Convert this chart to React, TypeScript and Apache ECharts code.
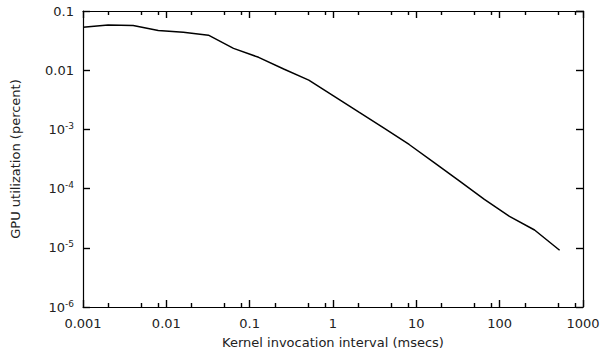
import React, { useEffect, useRef } from "react";
import * as echarts from "echarts";

const intervalsMs = [
  0.001, 0.002, 0.004, 0.008, 0.016, 0.032, 0.064, 0.128, 0.256, 0.512,
  1.024, 2.048, 4.096, 8.192, 16.384, 32.768, 65.536, 131.072, 262.144, 524.288,
];
const gpuUtilization = [
  0.053, 0.058, 0.057, 0.047, 0.0437, 0.039, 0.0234, 0.0165, 0.0105, 0.0068,
  0.00366, 0.00195, 0.00105, 0.000556, 0.000275, 0.000135, 0.000066, 0.000034, 0.00002, 0.0000091,
];
const xDecades = [-3, -2, -1, 0, 1, 2, 3];
const xMinorMantissas = [2, 5, 8];

const FONT = "DejaVu Sans";

export default function App() {
  const ref = useRef<HTMLDivElement>(null);
  useEffect(() => {
    if (!ref.current) return;
    const chart = echarts.init(ref.current, undefined, { renderer: "svg" });
    const minorTicks: number[] = [];
    xDecades.slice(0, -1).forEach((d) => {
      xMinorMantissas.forEach((m) => minorTicks.push(d + Math.log10(m)));
    });
    const fmtX = (v: number) => {
      const e = Math.round(Math.log10(v));
      return e < 0 ? Math.pow(10, e).toFixed(-e) : String(Math.round(Math.pow(10, e)));
    };
    const fmtY = (v: number) => {
      const e = Math.round(Math.log10(v));
      if (e === -1) return "0.1";
      if (e === -2) return "0.01";
      return "10{sup|" + e + "}";
    };
    const lineStyle = { color: "#000", width: 1.2 };
    const tickStyle = { color: "#000", width: 1.4 };
    const data = intervalsMs.map((x, i) => [x, gpuUtilization[i]]);
    chart.setOption({
      animation: false,
      backgroundColor: "#fff",
      grid: { left: 83, right: 20, top: 11, bottom: 47, containLabel: false },
      xAxis: [
        {
          type: "log",
          logBase: 10,
          min: 0.001,
          max: 1000,
          splitNumber: 6,
          position: "bottom",
          name: "Kernel invocation interval (msecs)",
          nameLocation: "middle",
          nameGap: 29,
          nameTextStyle: { fontFamily: FONT, fontSize: 13, color: "#222" },
          axisLine: { show: true, onZero: false, lineStyle },
          axisTick: { show: true, inside: true, length: 7, lineStyle: tickStyle },
          axisLabel: { fontFamily: FONT, fontSize: 13, color: "#222", margin: 10, formatter: fmtX },
          splitLine: { show: false },
          minorTick: { show: false },
        },
        {
          type: "log",
          logBase: 10,
          min: 0.001,
          max: 1000,
          splitNumber: 6,
          position: "top",
          axisLine: { show: true, onZero: false, lineStyle },
          axisTick: { show: true, inside: true, length: 7, lineStyle: tickStyle },
          axisLabel: { show: false },
          splitLine: { show: false },
        },
        {
          type: "value",
          min: -3,
          max: 3,
          position: "bottom",
          axisLine: { show: false, onZero: false },
          axisTick: { show: true, inside: true, length: 4, customValues: minorTicks, lineStyle: tickStyle },
          axisLabel: { show: false },
          splitLine: { show: false },
        },
        {
          type: "value",
          min: -3,
          max: 3,
          position: "top",
          axisLine: { show: false, onZero: false },
          axisTick: { show: true, inside: true, length: 4, customValues: minorTicks, lineStyle: tickStyle },
          axisLabel: { show: false },
          splitLine: { show: false },
        },
      ],
      yAxis: [
        {
          type: "log",
          logBase: 10,
          min: 0.000001,
          max: 0.1,
          splitNumber: 5,
          position: "left",
          name: "GPU utilization (percent)",
          nameLocation: "middle",
          nameGap: 61,
          nameTextStyle: { fontFamily: FONT, fontSize: 13, color: "#222" },
          axisLine: { show: true, onZero: false, lineStyle },
          axisTick: { show: true, inside: true, length: 7, lineStyle: tickStyle },
          axisLabel: {
            fontFamily: FONT,
            fontSize: 13,
            color: "#222",
            margin: 9,
            formatter: fmtY,
            rich: {
              sup: { fontFamily: FONT, fontSize: 9, color: "#222", verticalAlign: "top", padding: [0, 0, 7, 0] },
            },
          },
          splitLine: { show: false },
        },
        {
          type: "log",
          logBase: 10,
          min: 0.000001,
          max: 0.1,
          splitNumber: 5,
          position: "right",
          axisLine: { show: true, onZero: false, lineStyle },
          axisTick: { show: true, inside: true, length: 7, lineStyle: tickStyle },
          axisLabel: { show: false },
          splitLine: { show: false },
        },
      ],
      series: [
        {
          type: "line",
          xAxisIndex: 0,
          yAxisIndex: 0,
          data,
          showSymbol: false,
          symbol: "none",
          lineStyle: { color: "#000", width: 1.5 },
        },
      ],
    });
    return () => chart.dispose();
  }, []);
  return <div ref={ref} style={{ width: 603, height: 354, position: "absolute", left: 0, top: 0 }} />;
}
